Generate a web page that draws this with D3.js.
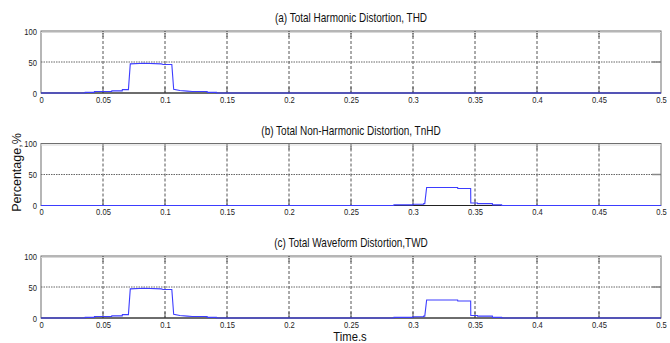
<!DOCTYPE html>
<html>
<head>
<meta charset="utf-8">
<script src="https://cdn.jsdelivr.net/npm/d3@7"></script>
<style>
  html, body { margin: 0; padding: 0; background: #fff; }
  svg { display: block; }
  .tick-label { font-family: "Liberation Sans", Arial, sans-serif; font-size: 9.5px; fill: #222; }
  .title { font-family: "Liberation Sans", Arial, sans-serif; font-size: 12.5px; fill: #111; }
  .axis-title { font-family: "Liberation Sans", Arial, sans-serif; font-size: 12.5px; fill: #111; }
</style>
</head>
<body>
<svg id="chart" width="670" height="343"></svg>
<script>
// Time axis ticks (s) and percentage ticks
const xTicks = [0, 0.05, 0.1, 0.15, 0.2, 0.25, 0.3, 0.35, 0.4, 0.45, 0.5];
const yTicks = [0, 50, 100];

const titles = [
  "(a) Total Harmonic Distortion, THD",
  "(b) Total Non-Harmonic Distortion, TnHD",
  "(c) Total Waveform Distortion,TWD"
];

// (a) THD, % vs time
const thdTime  = [0, 0.0355, 0.0356, 0.043, 0.0431, 0.057, 0.0571, 0.0655, 0.0656, 0.0705, 0.072, 0.083, 0.097, 0.0985, 0.1055, 0.107, 0.112, 0.118, 0.122, 0.134, 0.1341, 0.1415, 0.1416, 0.5];
const thdValue = [0, 0,      1,      1,     2.5,    2.5,   3.5,    3.5,    5.5,    5.5,    47,    48,    47,    46,     46,     6,     4,     3,     2.5,   2.5,   1,      1,      0,      0];

// (b) TnHD, % vs time
const tnhdTime  = [0, 0.2845, 0.2846, 0.300, 0.3001, 0.3085, 0.3086, 0.3095, 0.311, 0.336, 0.3361, 0.3465, 0.3466, 0.352, 0.3521, 0.364, 0.3641, 0.3715, 0.3716, 0.5];
const tnhdValue = [0, 0,      1,      1,     2,      2,      3,      3,      29,    29,    27.5,   27.5,   4,      4,     3,      3,     1,      1,      0,      0];

// (c) TWD, % vs time
const twdTime  = [0, 0.0355, 0.0356, 0.043, 0.0431, 0.057, 0.0571, 0.0655, 0.0656, 0.0705, 0.072, 0.083, 0.097, 0.0985, 0.1055, 0.107, 0.112, 0.118, 0.122, 0.134, 0.1341, 0.1415, 0.1416,
                  0.2845, 0.2846, 0.300, 0.3001, 0.3085, 0.3086, 0.3095, 0.311, 0.336, 0.3361, 0.3465, 0.3466, 0.352, 0.3521, 0.364, 0.3641, 0.3715, 0.3716, 0.5];
const twdValue = [0, 0,      1,      1,     2.5,    2.5,   3.5,    3.5,    5.5,    5.5,    47,    48,    47,    46,     46,     6,     4,     3,     2.5,   2.5,   1,      1,      0,
                  0,      1,      1,     2,      2,      3,      3,      29,    29,    27.5,   27.5,   4,      4,     3,      3,     1,      1,      0,      0];

const series = [
  { time: thdTime, value: thdValue },
  { time: tnhdTime, value: tnhdValue },
  { time: twdTime, value: twdValue }
];

const svg = d3.select("#chart");
const left = 41, right = 661;
const panelTops = [31, 143.5, 256];
const panelH = 62;
const narrow = 0.8; // horizontal squeeze for the condensed label face

const x = d3.scaleLinear().domain([0, 0.5]).range([left, right]);
const fmt = d => d === 0 ? "0" : String(+d.toFixed(2));

series.forEach((s, i) => {
  const top = panelTops[i];
  const y = d3.scaleLinear().domain([0, 100]).range([top + panelH, top]);
  const g = svg.append("g");

  // vertical dashed grid
  g.selectAll(".vgrid").data(xTicks.slice(1, -1)).enter().append("line")
    .attr("x1", d => x(d)).attr("x2", d => x(d))
    .attr("y1", top).attr("y2", top + panelH)
    .attr("stroke", "#555").attr("stroke-width", 1)
    .attr("stroke-dasharray", "3,2");
  // short solid ticks at bottom and top
  g.selectAll(".vtickb").data(xTicks.slice(1, -1)).enter().append("line")
    .attr("x1", d => x(d)).attr("x2", d => x(d))
    .attr("y1", top + panelH - 6).attr("y2", top + panelH)
    .attr("stroke", "#555");
  g.selectAll(".vtickt").data(xTicks.slice(1, -1)).enter().append("line")
    .attr("x1", d => x(d)).attr("x2", d => x(d))
    .attr("y1", top).attr("y2", top + 6)
    .attr("stroke", "#555");

  // horizontal dotted grid at 50
  g.append("line")
    .attr("x1", left).attr("x2", right)
    .attr("y1", y(50)).attr("y2", y(50))
    .attr("stroke", "#666").attr("stroke-width", 1)
    .attr("stroke-dasharray", "1.5,1");
  g.append("line")
    .attr("x1", right - 9).attr("x2", right)
    .attr("y1", y(50)).attr("y2", y(50))
    .attr("stroke", "#888").attr("stroke-width", 1.5);

  // frame
  g.append("rect")
    .attr("x", left).attr("y", top).attr("width", right - left).attr("height", panelH)
    .attr("fill", "none").attr("stroke", "#6f6f6f").attr("stroke-width", 1);
  g.append("line")
    .attr("x1", left).attr("x2", right).attr("y1", top + 1.5).attr("y2", top + 1.5)
    .attr("stroke", "#d8d8d8").attr("stroke-width", 1);
  g.append("line")
    .attr("x1", left).attr("x2", right).attr("y1", top + panelH).attr("y2", top + panelH)
    .attr("stroke", "#222").attr("stroke-width", 1);

  // x axis labels
  const xAxis = d3.axisBottom(x).tickValues(xTicks).tickFormat(fmt).tickSize(0).tickPadding(3);
  const xa = g.append("g").attr("transform", `translate(0,${top + panelH})`).call(xAxis);
  xa.select(".domain").remove();
  xa.selectAll("text").attr("class", "tick-label").attr("fill", "#222")
    .attr("transform", `scale(${narrow},1)`);

  // y axis labels
  const yAxis = d3.axisLeft(y).tickValues(yTicks).tickFormat(d3.format("d")).tickSize(0).tickPadding(4);
  const ya = g.append("g").attr("transform", `translate(${left},0)`).call(yAxis);
  ya.select(".domain").remove();
  ya.selectAll("text").attr("class", "tick-label").attr("fill", "#222")
    .attr("x", -4 / narrow)
    .attr("transform", `scale(${narrow},1)`);

  // data line
  const pts = s.time.map((t, k) => [t, s.value[k]]);
  g.append("path")
    .datum(pts)
    .attr("fill", "none")
    .attr("stroke", "#3d3dff")
    .attr("stroke-width", 1.1)
    .attr("d", d3.line().x(d => x(d[0])).y(d => y(d[1])));

  // title
  svg.append("text").attr("class", "title")
    .attr("transform", `translate(${(left + right) / 2},${top - 9}) scale(${narrow},1)`)
    .attr("text-anchor", "middle").text(titles[i]);
});

// axis titles
svg.append("text").attr("class", "axis-title")
  .attr("transform", `translate(21,${(panelTops[1] + panelTops[1] + panelH) / 2 - 2}) rotate(-90)`)
  .attr("text-anchor", "middle").text("Percentage,%");
svg.append("text").attr("class", "axis-title")
  .attr("transform", `translate(350,341) scale(0.9,1)`)
  .attr("text-anchor", "middle").text("Time.s");
</script>
</body>
</html>
